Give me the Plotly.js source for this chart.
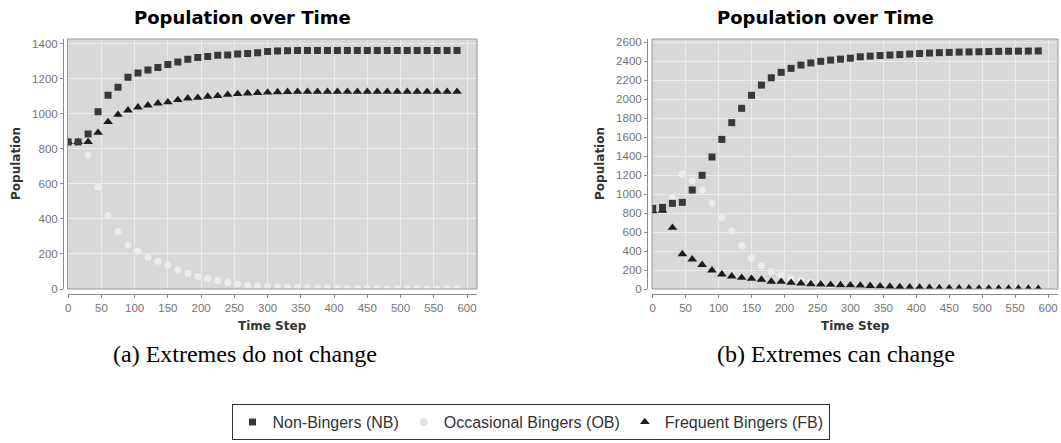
<!DOCTYPE html>
<html>
<head>
<meta charset="utf-8">
<script src="https://cdn.plot.ly/plotly-3.0.1.min.js"></script>
<style>html,body{margin:0;padding:0;background:#fff;}#chart{width:1061px;height:443px;}</style>
</head>
<body>
<div id="chart"></div>
<script>
// Time steps (shared by both panels)
const timeSteps = [0,15,30,45,60,75,90,105,120,135,150,165,180,195,210,225,240,255,270,285,300,315,330,345,360,375,390,405,420,435,450,465,480,495,510,525,540,555,570,585];

// Panel (a): Extremes do not change
const nbA = [840,840,885,1013,1107,1152,1209,1234,1251,1265,1282,1297,1312,1322,1328,1335,1337,1343,1345,1350,1356,1360,1361,1362,1362,1362,1362,1362,1362,1362,1362,1362,1362,1362,1362,1362,1362,1362,1362,1362];
const obA = [840,833,766,581,419,328,251,215,181,158,135,112,88,72,61,48,37,28,22,18,15,12,10,8,7,6,5,4,3,3,2,2,2,1,1,1,1,0,0,0];
const fbA = [840,840,840,893,954,996,1021,1038,1049,1061,1067,1080,1089,1093,1099,1103,1110,1114,1118,1121,1123,1125,1126,1127,1127,1127,1127,1127,1127,1127,1127,1127,1127,1127,1127,1127,1127,1127,1127,1127];

// Panel (b): Extremes can change
const nbB = [849,860,902,912,1042,1197,1390,1575,1751,1902,2039,2147,2224,2281,2323,2358,2380,2397,2410,2420,2430,2445,2452,2458,2463,2468,2474,2479,2484,2488,2491,2494,2496,2498,2500,2502,2503,2504,2505,2506];
const obB = [833,880,955,1210,1140,1042,902,751,611,458,323,244,186,147,115,90,70,55,43,34,27,21,17,13,10,8,6,5,4,3,3,2,2,1,1,1,1,0,0,0];
const fbB = [820,824,645,368,312,255,197,155,133,119,108,100,79,77,67,60,52,50,45,42,40,38,34,30,26,22,18,16,14,10,9,8,7,6,6,5,5,4,4,3];

const seriesNames = ['Non-Bingers (NB)', 'Occasional Bingers (OB)', 'Frequent Bingers (FB)'];
const panelTitle = 'Population over Time';
const xTitle = 'Time Step';
const yTitle = 'Population';
const captions = ['(a) Extremes do not change', '(b) Extremes can change'];

const W = 1061, H = 443;
const px = v => v / W;
const py = v => 1 - v / H;

const styles = [
  {symbol: 'square', color: '#383838', size: 7},
  {symbol: 'circle', color: '#ececec', size: 7},
  {symbol: 'triangle-up', color: '#1c1c1c', size: 8.5}
];

function mk(x, y, i, xa, ya, show) {
  return {
    x: x, y: y, type: 'scatter', mode: 'markers', name: seriesNames[i],
    xaxis: xa, yaxis: ya, showlegend: show, cliponaxis: true,
    marker: {symbol: styles[i].symbol, color: styles[i].color, size: styles[i].size, line: {width: 0}}
  };
}

const data = [
  mk(timeSteps, obA, 1, 'x', 'y', false),
  mk(timeSteps, fbA, 2, 'x', 'y', false),
  mk(timeSteps, nbA, 0, 'x', 'y', false),
  mk(timeSteps, obB, 1, 'x2', 'y2', false),
  mk(timeSteps, fbB, 2, 'x2', 'y2', false),
  mk(timeSteps, nbB, 0, 'x2', 'y2', false),
  // legend entries
  mk([null], [null], 0, 'x', 'y', true),
  Object.assign(mk([null], [null], 1, 'x', 'y', true), {marker: {symbol: 'circle', color: '#e2e2e2', size: 8}}),
  mk([null], [null], 2, 'x', 'y', true)
];

const tickFont = {family: 'Liberation Sans, Arial, sans-serif', size: 11.5, color: '#747474'};
const yDom = [py(289), py(39)];
const xPos = py(294);

function xAx(dom) {
  return {
    domain: dom, anchor: 'free', position: xPos,
    range: [-1, 615], tickmode: 'linear', tick0: 0, dtick: 50,
    showline: true, linecolor: '#8a8a8a', linewidth: 1,
    ticks: 'outside', ticklen: 3, tickcolor: '#8a8a8a',
    showgrid: true, gridcolor: '#ebebeb', gridwidth: 1, zeroline: false,
    tickfont: tickFont, fixedrange: true
  };
}
function yAx(pos, maxv) {
  return {
    domain: yDom, anchor: 'free', position: pos,
    range: [0, maxv], tickmode: 'linear', tick0: 0, dtick: 200,
    showline: true, linecolor: '#8a8a8a', linewidth: 1,
    ticks: 'outside', ticklen: 3, tickcolor: '#8a8a8a',
    showgrid: true, gridcolor: '#ebebeb', gridwidth: 1, zeroline: false,
    tickfont: tickFont, fixedrange: true
  };
}

const titleFont = {family: 'DejaVu Sans, Verdana, sans-serif', size: 18, color: '#000'};
const axTitleFont = {family: 'DejaVu Sans, Verdana, sans-serif', size: 12, color: '#333'};
const capFont = {family: 'Liberation Serif, Times New Roman, serif', size: 24, color: '#000'};

const layout = {
  width: W, height: H,
  margin: {l: 0, r: 0, t: 0, b: 0, pad: 0},
  paper_bgcolor: '#ffffff',
  plot_bgcolor: '#d8d8d8',
  xaxis: xAx([px(67.5), px(477)]),
  yaxis: yAx(px(63), 1428),
  xaxis2: xAx([px(652), px(1058)]),
  yaxis2: yAx(px(647), 2632),
  showlegend: true,
  legend: {
    orientation: 'h', x: 0.5, xanchor: 'center', y: py(422), yanchor: 'middle',
    bordercolor: '#333', borderwidth: 1, bgcolor: '#fff',
    font: {family: 'Liberation Sans, Arial, sans-serif', size: 16, color: '#333'},
    itemwidth: 30, tracegroupgap: 0
  },
  shapes: [
    {type: 'rect', xref: 'x domain', yref: 'y domain', x0: 0, x1: 1, y0: 0, y1: 1, line: {color: '#9a9a9a', width: 1}, fillcolor: 'rgba(0,0,0,0)', layer: 'above'},
    {type: 'rect', xref: 'x2 domain', yref: 'y2 domain', x0: 0, x1: 1, y0: 0, y1: 1, line: {color: '#9a9a9a', width: 1}, fillcolor: 'rgba(0,0,0,0)', layer: 'above'}
  ],
  annotations: [
    {text: '<b>' + panelTitle + '</b>', x: px(242), y: py(18), xref: 'paper', yref: 'paper', xanchor: 'center', yanchor: 'middle', showarrow: false, font: titleFont},
    {text: '<b>' + panelTitle + '</b>', x: px(825), y: py(18), xref: 'paper', yref: 'paper', xanchor: 'center', yanchor: 'middle', showarrow: false, font: titleFont},
    {text: '<b>' + yTitle + '</b>', x: px(16), y: py(164), xref: 'paper', yref: 'paper', xanchor: 'center', yanchor: 'middle', textangle: -90, showarrow: false, font: axTitleFont},
    {text: '<b>' + yTitle + '</b>', x: px(600), y: py(164), xref: 'paper', yref: 'paper', xanchor: 'center', yanchor: 'middle', textangle: -90, showarrow: false, font: axTitleFont},
    {text: '<b>' + xTitle + '</b>', x: px(272), y: py(326), xref: 'paper', yref: 'paper', xanchor: 'center', yanchor: 'middle', showarrow: false, font: axTitleFont},
    {text: '<b>' + xTitle + '</b>', x: px(855), y: py(326), xref: 'paper', yref: 'paper', xanchor: 'center', yanchor: 'middle', showarrow: false, font: axTitleFont},
    {text: captions[0], x: px(245), y: py(354), xref: 'paper', yref: 'paper', xanchor: 'center', yanchor: 'middle', showarrow: false, font: capFont},
    {text: captions[1], x: px(836), y: py(354), xref: 'paper', yref: 'paper', xanchor: 'center', yanchor: 'middle', showarrow: false, font: capFont}
  ]
};

Plotly.newPlot('chart', data, layout, {staticPlot: true, displayModeBar: false});
</script>
</body>
</html>
